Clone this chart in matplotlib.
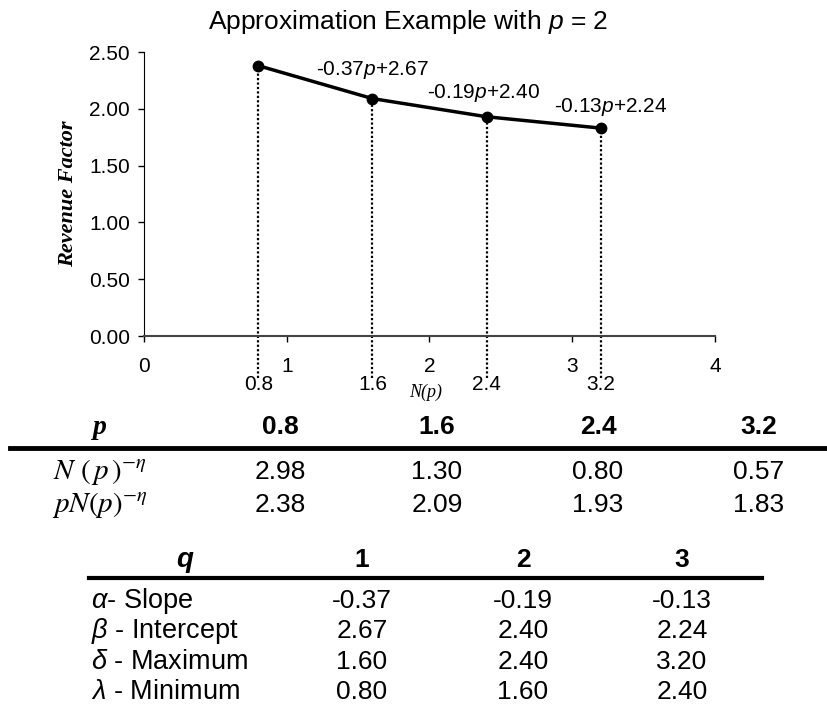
import matplotlib
matplotlib.use("Agg")
import matplotlib.pyplot as plt
from matplotlib.lines import Line2D

plt.rcParams['font.family'] = 'Liberation Sans'
plt.rcParams['mathtext.fontset'] = 'custom'
plt.rcParams['mathtext.rm'] = 'Liberation Sans'
plt.rcParams['mathtext.it'] = 'Liberation Sans:italic'
plt.rcParams['mathtext.bf'] = 'Liberation Sans:bold'

# data
p_values = [0.8, 1.6, 2.4, 3.2]
n_p_eta = [2.98, 1.30, 0.80, 0.57]
pn_p_eta = [2.38, 2.09, 1.93, 1.83]
q_values = [1, 2, 3]
slopes = [-0.37, -0.19, -0.13]
intercepts = [2.67, 2.40, 2.24]
maximums = [1.60, 2.40, 3.20]
minimums = [0.80, 1.60, 2.40]
segment_labels = ['-0.37$p$+2.67', '-0.19$p$+2.40', '-0.13$p$+2.24']
label_pos = [(1.6, 2.34), (2.38, 2.14), (3.27, 2.02)]

W, H = 828, 718
fig = plt.figure(figsize=(W / 100, H / 100), dpi=100)


def fx(x):
    return x / W


def fy(y):
    return 1 - y / H


ax = fig.add_axes([fx(144), fy(336), fx(715) - fx(144), fy(52) - fy(336)])
ax.plot(p_values, pn_p_eta, color='black', lw=2.5, marker='o', ms=7.5, zorder=3)
ax.vlines(p_values, -0.37, pn_p_eta, colors='black', linestyles=(0, (1, 1)), lw=1.6, clip_on=False)
for (lx, ly), txt in zip(label_pos, segment_labels):
    ax.text(lx, ly, txt, ha='center', va='center', fontsize=15)
for p in p_values:
    ax.text(p, -0.43, f"{p:.1f}", ha='center', va='center', fontsize=15)
ax.text(1.97, -0.50, 'N(p)', ha='center', va='center', fontsize=13,
        family='Liberation Serif', style='italic')

ax.set_xlim(0, 4)
ax.set_ylim(0, 2.5)
ax.set_xticks([0, 1, 2, 3, 4])
ax.set_yticks([0, 0.5, 1.0, 1.5, 2.0, 2.5])
ax.set_yticklabels([f"{v:.2f}" for v in ax.get_yticks()])
ax.tick_params(axis='both', labelsize=15, direction='out', length=4, width=1)
ax.tick_params(axis='x', pad=11)
ax.tick_params(axis='y', pad=6)
ax.spines['top'].set_visible(False)
ax.spines['right'].set_visible(False)
ax.spines['bottom'].set_color('#444444')
ax.spines['bottom'].set_linewidth(1.5)
ax.set_ylabel('Revenue Factor', family='Liberation Serif', style='italic', weight='bold',
              fontsize=16, labelpad=8)

fig.text(fx(408), fy(22), 'Approximation Example with $p$ = 2', ha='center', va='center', fontsize=19)

# first table
cols1 = [280, 437, 598, 759]
fig.text(fx(100), fy(427), 'p', ha='center', va='center', fontsize=20,
         family='Liberation Serif', style='italic', weight='bold')
for x, p in zip(cols1, p_values):
    fig.text(fx(x), fy(427), f"{p:.1f}", ha='center', va='center', fontsize=19, weight='bold')
fig.add_artist(Line2D([fx(10), fx(828)], [fy(448), fy(448)], color='black', lw=3.5))
fig.text(fx(100), fy(472), r'$N\ (\,p\,)^{-\eta}$', ha='center', va='center', fontsize=21, math_fontfamily='stix')
fig.text(fx(100), fy(505), r'$pN(p)^{-\eta}$', ha='center', va='center', fontsize=21, math_fontfamily='stix')
for x, a, b in zip(cols1, n_p_eta, pn_p_eta):
    fig.text(fx(x), fy(472), f"{a:.2f}", ha='center', va='center', fontsize=19)
    fig.text(fx(x), fy(505), f"{b:.2f}", ha='center', va='center', fontsize=19)

# second table
cols2 = [362, 523, 682]
fig.text(fx(185), fy(560), 'q', ha='center', va='center', fontsize=20, style='italic', weight='bold')
for x, q in zip(cols2, q_values):
    fig.text(fx(x), fy(560), str(q), ha='center', va='center', fontsize=19, weight='bold')
fig.add_artist(Line2D([fx(89), fx(762)], [fy(578), fy(578)], color='black', lw=3))
row_labels = [r'$\alpha$- Slope', r'$\beta$ - Intercept', r'$\delta$ - Maximum', r'$\lambda$ - Minimum']
rows = [slopes, intercepts, maximums, minimums]
row_y = [601, 631, 662, 692]
for y, lab, vals in zip(row_y, row_labels, rows):
    fig.text(fx(91), fy(y), lab, ha='left', va='center', fontsize=19.5)
    for x, v in zip(cols2, vals):
        fig.text(fx(x), fy(y), f"{v:.2f}", ha='center', va='center', fontsize=19)

fig.savefig('out.png', dpi=100)
